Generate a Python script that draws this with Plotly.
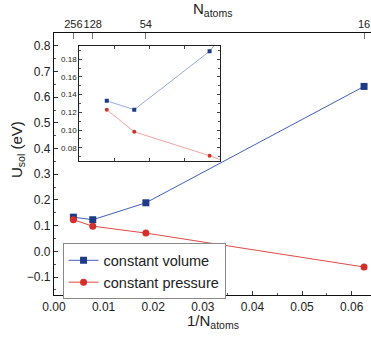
import plotly.graph_objects as go

N_atoms = [256, 128, 54, 16]
top_tick_text = ["256", "128", "54", "16"]
U_volume = [0.133, 0.123, 0.189, 0.642]
U_pressure = [0.123, 0.098, 0.071, -0.061]
band = [0.123, 0.133]

inv_N = [1.0 / n for n in N_atoms]

FONT = "Liberation Sans, Arial, sans-serif"
TXT = "#222222"
BLUE_M = "#1f3b87"
BLUE_L = "#3f60bd"
RED_M = "#d42f2a"
RED_L = "#e04a45"

fig = go.Figure()

fig.add_trace(go.Scatter(x=inv_N, y=U_volume, mode="lines+markers", name="constant volume",
                         line=dict(color=BLUE_L, width=1),
                         marker=dict(symbol="square", size=7, color=BLUE_M),
                         xaxis="x", yaxis="y"))
fig.add_trace(go.Scatter(x=inv_N, y=U_pressure, mode="lines+markers", name="constant pressure",
                         line=dict(color=RED_L, width=1),
                         marker=dict(symbol="circle", size=7, color=RED_M),
                         xaxis="x", yaxis="y"))
fig.add_trace(go.Scatter(x=inv_N, y=U_volume, mode="lines+markers", showlegend=False,
                         line=dict(color="#6f86cc", width=0.7),
                         marker=dict(symbol="square", size=4, color=BLUE_M),
                         xaxis="x3", yaxis="y3"))
fig.add_trace(go.Scatter(x=inv_N, y=U_pressure, mode="lines+markers", showlegend=False,
                         line=dict(color="#ee7b78", width=0.7),
                         marker=dict(symbol="circle", size=4, color=RED_M),
                         xaxis="x3", yaxis="y3"))
fig.add_trace(go.Scatter(x=inv_N, y=U_volume, mode="markers", showlegend=False,
                         marker=dict(opacity=0), hoverinfo="skip",
                         xaxis="x2", yaxis="y"))

XR = [0, 0.0639]
YR = [-0.17, 0.85]

fig.update_layout(
    width=371, height=343,
    margin=dict(l=54, r=0, t=33, b=48, autoexpand=False),
    paper_bgcolor="white", plot_bgcolor="white",
    font=dict(family=FONT, color=TXT, size=12),
    showlegend=True,
    legend=dict(x=0.027, y=0.197, xanchor="left", yanchor="top",
                bordercolor="#888888", borderwidth=1, bgcolor="white",
                font=dict(size=14.5, family=FONT, color=TXT),
                itemwidth=30, tracegroupgap=0),
    xaxis=dict(range=XR, domain=[0, 1], showgrid=False, zeroline=False, automargin=False,
               showline=True, linecolor="#111", linewidth=1.2,
               ticks="inside", ticklen=4, tickcolor="#333", tickangle=0,
               dtick=0.01, tickformat=".2f", tickfont=dict(size=12),
               minor=dict(ticks="inside", ticklen=2, dtick=0.005, tickcolor="#555")),
    xaxis2=dict(range=XR, overlaying="x", side="top", anchor="y", showgrid=False, zeroline=False,
                automargin=False, showline=True, linecolor="#111", linewidth=1.2,
                ticks="inside", ticklen=6, tickcolor="#777", tickangle=0, ticklabelstandoff=0,
                tickmode="array", tickvals=inv_N, ticktext=top_tick_text,
                tickfont=dict(size=11)),
    yaxis=dict(range=YR, domain=[0, 1], showgrid=False, zeroline=False, automargin=False,
               showline=True, linecolor="#111", linewidth=1.2,
               ticks="inside", ticklen=4, tickcolor="#333",
               dtick=0.1, tickformat=".1f", tickfont=dict(size=12),
               minor=dict(ticks="inside", ticklen=2, dtick=0.05, tickcolor="#555")),
    xaxis3=dict(range=[0, 0.02], domain=[0.0798, 0.5237], anchor="y3", showgrid=False, zeroline=False,
                automargin=False, showline=True, linecolor="#222", linewidth=1, mirror="ticks",
                ticks="inside", ticklen=3, tickcolor="#444", dtick=0.005, showticklabels=False),
    yaxis3=dict(range=[0.065, 0.195], domain=[0.5115, 0.9504], anchor="x3", showgrid=False, zeroline=False,
                automargin=False, showline=True, linecolor="#222", linewidth=1, mirror="ticks",
                ticks="inside", ticklen=3, tickcolor="#444", dtick=0.02, tickformat=".2f",
                tickfont=dict(size=8),
                minor=dict(ticks="inside", ticklen=2, dtick=0.01, tickcolor="#555")),
    shapes=[dict(type="rect", xref="x3 domain", yref="y3", x0=0, x1=1, y0=band[0], y1=band[1],
                 fillcolor="#7196d2", line=dict(width=0), layer="below")],
    annotations=[
        dict(text="1/N<sub>atoms</sub>", xref="paper", yref="paper", x=0.5, y=-0.10,
             xanchor="center", yanchor="middle", showarrow=False, font=dict(size=15)),
        dict(text="N<sub>atoms</sub>", xref="paper", yref="paper", x=0.5, y=1.088,
             xanchor="center", yanchor="middle", showarrow=False, font=dict(size=15)),
        dict(text="U<sub>sol</sub> (eV)", xref="paper", yref="paper", x=-0.117, y=0.557,
             xanchor="center", yanchor="middle", textangle=-90, showarrow=False, font=dict(size=15)),
    ],
)

fig.write_html("out.html", config={"displayModeBar": False},
               post_script="document.body.style.margin='0px';document.body.style.overflow='hidden';")
